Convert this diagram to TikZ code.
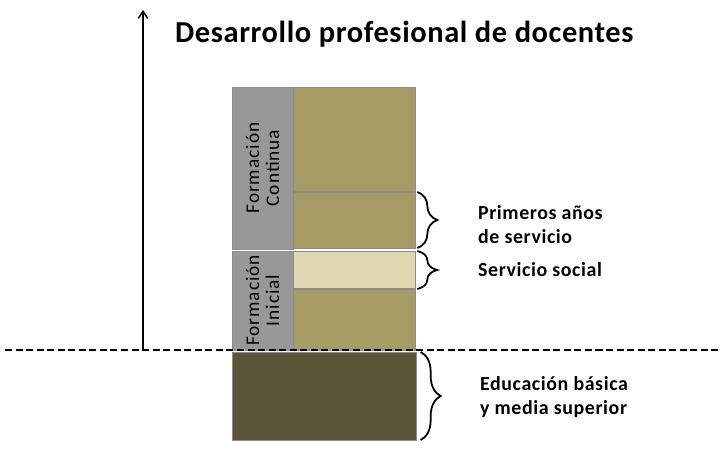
\documentclass[tikz,border=0pt]{standalone}
\usepackage{fontspec}
\setmainfont{Carlito}
\usetikzlibrary{positioning,calc,decorations.pathreplacing,arrows.meta}

\definecolor{tanfill}{RGB}{168,156,102}
\definecolor{lighttan}{RGB}{223,215,178}
\definecolor{darkolive}{RGB}{90,84,54}
\definecolor{grayfill}{RGB}{152,152,152}

\begin{document}
\begin{tikzpicture}[
    x=0.03cm, y=-0.03cm,
    block/.style={draw=black!45, line width=0.8pt, inner sep=0pt, outer sep=0pt, anchor=north west},
    grayblock/.style={block, fill=grayfill, minimum width=1.83cm},
    tanblock/.style={block, fill=tanfill, minimum width=3.66cm},
    vtext/.style={rotate=90, align=center, font=\fontsize{16.5}{17}\selectfont\addfontfeatures{LetterSpace=5}},
    lbl/.style={anchor=west, align=left, font=\fontsize{17}{20.5}\selectfont\bfseries\addfontfeatures{LetterSpace=3}},
    brc/.style={decorate, decoration={brace, amplitude=0.6cm}, line width=1.5pt},
    arr/.style={-{Straight Barb[length=6pt, width=8pt]}, line width=1.3pt}
]
    \useasboundingbox (0,0) rectangle (723,452);

    % Left column
    \node[grayblock, minimum height=4.86cm] (contin) at (232,87) {};
    \node[vtext] (continT) at (contin.center) {Formación\\Continua};
    \node[grayblock, minimum height=2.97cm] (inicial) at (232,251) {};
    \node[vtext] (inicialT) at (inicial.center) {Formación\\Inicial};

    % Right column
    \node[tanblock, minimum height=3.12cm] (tanA) at (293,87) {};
    \node[tanblock, minimum height=1.68cm] (tanB) at (293,192) {};
    \node[tanblock, fill=lighttan, minimum height=1.11cm] (social) at (293,251) {};
    \node[tanblock, minimum height=1.83cm] (tanC) at (293,289) {};

    % Base block
    \node[block, fill=darkolive, minimum width=5.52cm, minimum height=2.64cm] (basica) at (232,352) {};

    % Axis and dashed line
    \coordinate (axisBot) at (143,350);
    \coordinate (axisTop) at (143,10);
    \coordinate (dashL) at (5,350);
    \coordinate (dashR) at (718,350);
    \draw[arr] (axisBot) -- (axisTop);
    \draw[line width=1.3pt, dash pattern=on 6pt off 3pt] (dashL) -- (dashR);

    \node[anchor=west, font=\fontsize{26}{28}\selectfont\bfseries\addfontfeatures{LetterSpace=2}] (title) at (171,34) {Desarrollo profesional de docentes};

    % Braces
    \draw[brc] ([xshift=2pt]tanB.north east) -- ([xshift=2pt]tanB.south east);
    \draw[brc] ([xshift=2pt]social.north east) -- ([xshift=2pt]tanC.north east);
    \draw[brc] ([xshift=4pt]basica.north east) -- ([xshift=4pt]basica.south east);

    % Labels
    \node[lbl] (primeros) at (474,225) {Primeros años\\de servicio};
    \node[lbl] (servicio) at (474,270) {Servicio social};
    \node[lbl] (educacion) at (476,397) {Educación básica\\y media superior};
\end{tikzpicture}
\end{document}
